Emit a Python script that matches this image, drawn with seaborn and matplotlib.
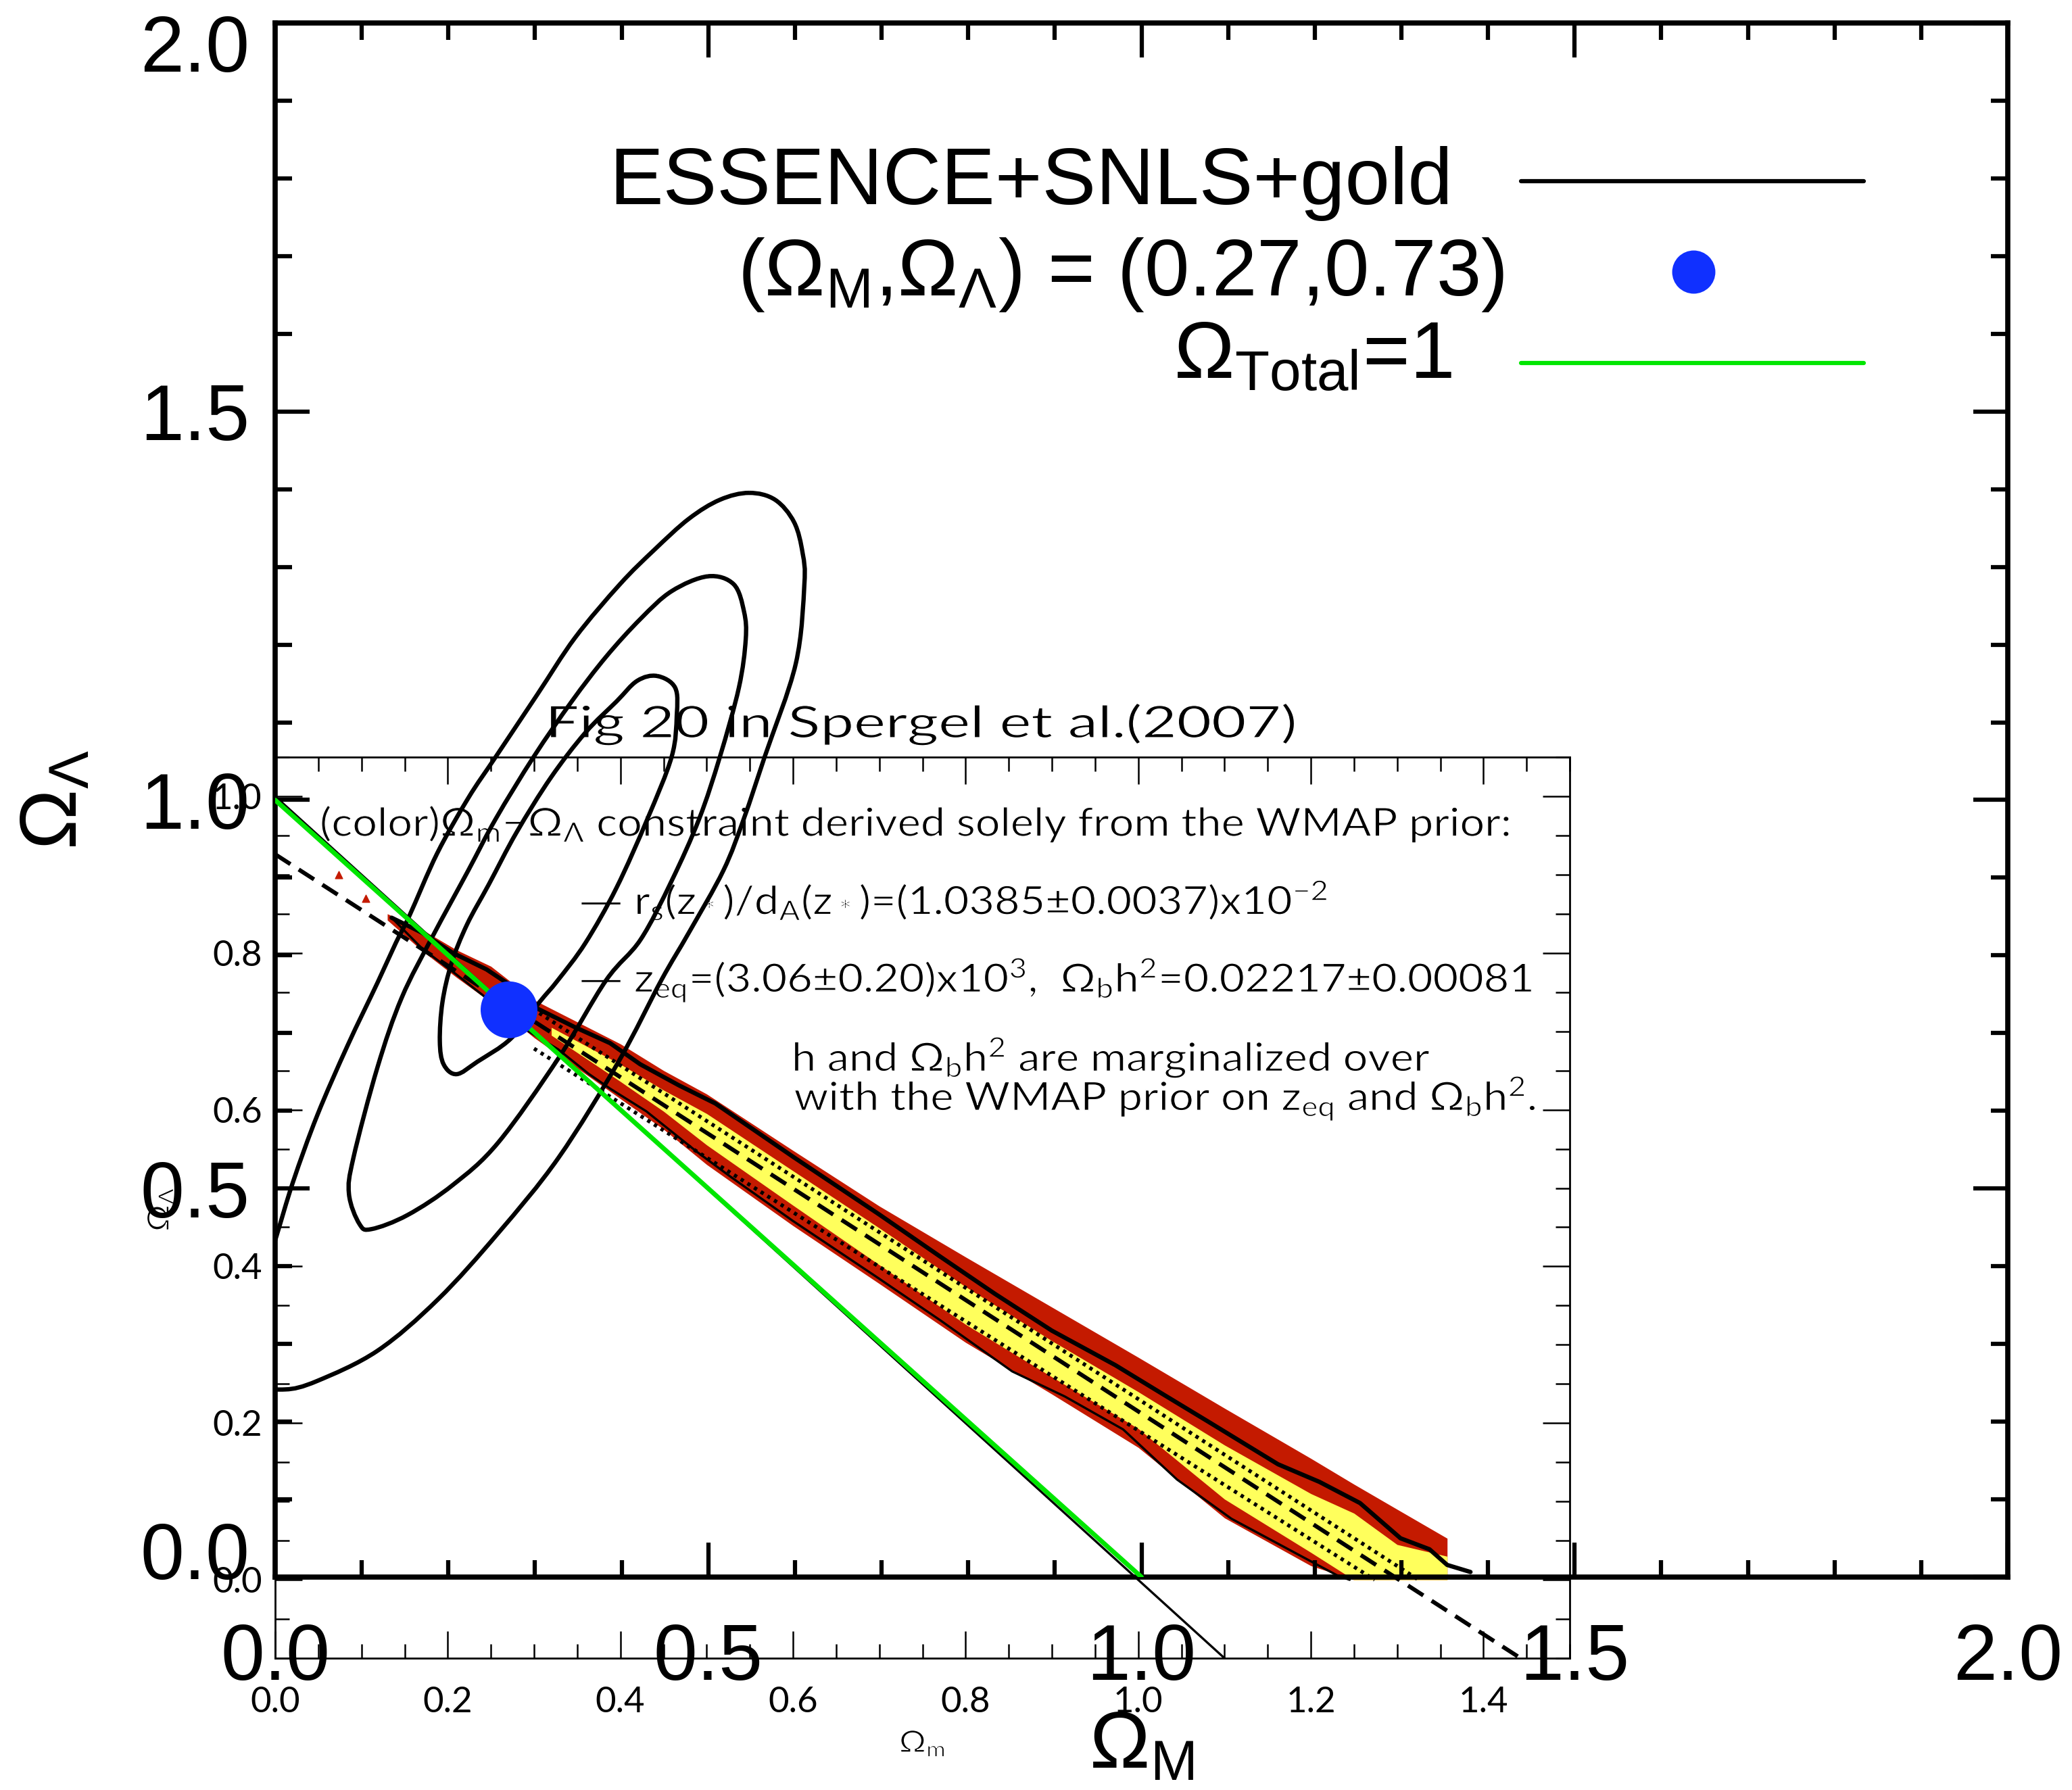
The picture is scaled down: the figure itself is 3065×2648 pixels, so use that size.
import numpy as np
import matplotlib
matplotlib.use("Agg")
import matplotlib.pyplot as plt
import seaborn as sns
from matplotlib.path import Path
from matplotlib.patches import PathPatch
from matplotlib.textpath import TextPath
from matplotlib.font_manager import FontProperties
from matplotlib.transforms import Affine2D, ScaledTranslation
from matplotlib.ticker import MultipleLocator

# ---------------------------------------------------------------- data
# ESSENCE+SNLS+gold confidence contours in the (Omega_M, Omega_Lambda) plane,
# listed clockwise starting from the top of each contour
sn1_om = [0.441, 0.4617, 0.4636, 0.4577, 0.4298, 0.394, 0.3582, 0.3263, 0.305, 0.2722,
          0.2334, 0.2095, 0.1945, 0.1901, 0.1931, 0.2035, 0.2214, 0.2467, 0.2786, 0.3184,
          0.3582, 0.394, 0.4179]
sn1_ol = [1.1596, 1.1446, 1.109, 1.0557, 0.9759, 0.887, 0.8161, 0.768, 0.7397, 0.6931,
          0.6632, 0.6472, 0.6598, 0.6898, 0.7397, 0.7897, 0.8396, 0.8915, 0.9582, 1.0291,
          1.0868, 1.1268, 1.1534]

sn2_om = [0.4995, 0.5293, 0.5413, 0.5432, 0.5353, 0.5134, 0.4895, 0.4577, 0.4219, 0.382,
          0.3272, 0.2575, 0.2053, 0.153, 0.1112, 0.0973, 0.0852, 0.0904, 0.1182, 0.1461,
          0.182, 0.2229, 0.2547, 0.2985, 0.3423, 0.3821, 0.4219, 0.4577]
sn2_ol = [1.2879, 1.2777, 1.2422, 1.2066, 1.1446, 1.0557, 0.9759, 0.896, 0.8205, 0.768,
          0.668, 0.5592, 0.5048, 0.466, 0.4478, 0.4544, 0.4932, 0.5398, 0.6563, 0.7456,
          0.825, 0.9093, 0.9759, 1.0557, 1.1268, 1.1845, 1.2333, 1.2688]

sn3_om = [0.5472, 0.5771, 0.599, 0.6089, 0.6109, 0.601, 0.5651, 0.541, 0.5174, 0.4776,
          0.4457, 0.3968, 0.3272, 0.2575, 0.1879, 0.1182, 0.0486, 0.012, -0.010, -0.025,
          -0.018, 0.0005, 0.0207, 0.0486, 0.0834, 0.1182, 0.1393, 0.1552, 0.1871, 0.2229,
          0.2547, 0.3025, 0.3462, 0.398, 0.4378, 0.4776, 0.5134]
sn3_ol = [1.3953, 1.3864, 1.3576, 1.3176, 1.2777, 1.1756, 1.0557, 0.9759, 0.9093, 0.8294,
          0.768, 0.6641, 0.5398, 0.4427, 0.3573, 0.2913, 0.2524, 0.2415, 0.250, 0.30,
          0.37, 0.435, 0.5087, 0.5942, 0.6835, 0.765, 0.8161, 0.8516, 0.9315, 1.0025,
          1.0557, 1.1356, 1.2089, 1.2777, 1.3221, 1.362, 1.3864]

# concordance model and the flat-universe line
lcdm_om = [0.27]
lcdm_ol = [0.73]
flat_om = [0.0, 1.0]
flat_ol = [1.0, 0.0]

# Inset: WMAP-prior constraint (Spergel et al. 2007, Fig. 20)
band_om = [0.13, 0.17, 0.21, 0.25, 0.30, 0.35, 0.40, 0.45, 0.50, 0.60, 0.70, 0.80, 0.90,
           1.00, 1.10, 1.20, 1.25, 1.30, 1.358]
band_hi = [0.850, 0.830, 0.804, 0.783, 0.740, 0.712, 0.684, 0.650, 0.620, 0.548, 0.477,
           0.412, 0.348, 0.284, 0.219, 0.155, 0.122, 0.090, 0.053]
band_lo = [0.842, 0.803, 0.769, 0.737, 0.692, 0.653, 0.614, 0.575, 0.530, 0.452, 0.378,
           0.303, 0.237, 0.169, 0.079, 0.018, 0.0, 0.0, 0.0]

core_om = [0.32, 0.40, 0.45, 0.50, 0.60, 0.70, 0.80, 0.90, 1.00, 1.10, 1.20, 1.25, 1.30, 1.358]
core_hi = [0.705, 0.658, 0.625, 0.595, 0.522, 0.449, 0.374, 0.305, 0.240, 0.172, 0.110,
           0.085, 0.045, 0.030]
core_lo = [0.695, 0.636, 0.598, 0.555, 0.478, 0.402, 0.326, 0.259, 0.193, 0.103, 0.035,
           0.0, 0.0, 0.0]

solid_om = [0.135, 0.17, 0.206, 0.245, 0.275, 0.304, 0.346, 0.388, 0.423, 0.468, 0.510,
            0.60, 0.699, 0.77, 0.834, 0.90, 0.9735, 1.03, 1.081, 1.162, 1.21, 1.257,
            1.304, 1.3375, 1.358, 1.385]
solid_ol = [0.845, 0.826, 0.800, 0.779, 0.757, 0.729, 0.706, 0.685, 0.658, 0.631, 0.608,
            0.540, 0.467, 0.413, 0.365, 0.318, 0.274, 0.236, 0.202, 0.1475, 0.125, 0.098,
            0.053, 0.039, 0.019, 0.010]

thin_om = [0.135, 0.17, 0.206, 0.25, 0.2935, 0.328, 0.363, 0.388, 0.430, 0.489, 0.527,
           0.60, 0.699, 0.771, 0.854, 0.915, 0.9825, 1.045, 1.108, 1.1825, 1.23, 1.245]
thin_ol = [0.845, 0.806, 0.776, 0.738, 0.700, 0.677, 0.646, 0.627, 0.598, 0.546, 0.515,
           0.458, 0.385, 0.331, 0.266, 0.234, 0.192, 0.128, 0.078, 0.034, 0.006, 0.0]

dash_om = [0.0, 1.443]
dash_ol = [0.926, -0.100]
dotu_om = [0.26, 1.325]
dotu_ol = [0.756, 0.0]
dotl_om = [0.30, 1.274]
dotl_ol = [0.678, 0.0]
inset_flat_om = [0.0, 1.1]
inset_flat_ol = [1.0, -0.1]
speck_om = [0.074, 0.105]
speck_ol = [0.90, 0.87]

main_ticks = [0.0, 0.5, 1.0, 1.5, 2.0]
inset_xticks = [0.0, 0.2, 0.4, 0.6, 0.8, 1.0, 1.2, 1.4]
inset_yticks = [0.0, 0.2, 0.4, 0.6, 0.8, 1.0]

legend_labels = ["ESSENCE+SNLS+gold",
                 "(Ω$_M$,Ω$_Λ$) = (0.27,0.73)",
                 "Ω$_{Total}$=1"]
inset_title = "Fig 20 in Spergel et al.(2007)"
inset_notes = [
    "(color)Ω$_m$−Ω$_Λ$ constraint derived solely from the WMAP prior:",
    "— r$_s$(z$_*$)/d$_A$(z$_*$)=(1.0385±0.0037)x10$^{-2}$",
    "— z$_{eq}$=(3.06±0.20)x10$^3$,  Ω$_b$h$^2$=0.02217±0.00081",
    "h and Ω$_b$h$^2$ are marginalized over",
    "with the WMAP prior on z$_{eq}$ and Ω$_b$h$^2$.",
]

# ---------------------------------------------------------------- style
sns.set_theme(style="ticks")
plt.rcParams.update({
    "font.family": ["Liberation Sans", "DejaVu Sans"],
    "mathtext.default": "regular",
    "text.color": "black",
    "axes.edgecolor": "black",
    "axes.labelcolor": "black",
    "xtick.color": "black",
    "ytick.color": "black",
})

BLUE = "#1030FF"
GREEN = "#00E600"
RED = "#C41A00"
YELLOW = "#FFFF5C"
DPI = 100
PX = DPI / 72.0
THIN_FONT = FontProperties(family=["Lato", "DejaVu Sans"], weight="normal")


def smooth_closed_path(xs, ys):
    """Closed Catmull-Rom curve through the contour vertices."""
    pts = np.column_stack([xs, ys]).astype(float)
    n = len(pts)
    verts = [pts[0]]
    codes = [Path.MOVETO]
    for i in range(n):
        p0, p1, p2, p3 = pts[i - 1], pts[i], pts[(i + 1) % n], pts[(i + 2) % n]
        verts += [p1 + (p2 - p0) / 6.0, p2 - (p3 - p1) / 6.0, p2]
        codes += [Path.CURVE4] * 3
    return Path(verts, codes)


def text_width_px(s, size):
    return TextPath((0, 0), s, size=size, prop=THIN_FONT).get_extents().width * PX


def wide_text(ax, x, y, s, size, stretch, ha="left", rotation=0):
    """Text drawn as a path, widened horizontally and with slim strokes like
    the plotter lettering of the inset."""
    tp = TextPath((0, 0), s, size=size, prop=THIN_FONT)
    ext = tp.get_extents()
    shift = -(ext.x0 + ext.x1) / 2.0 if ha == "center" else -ext.x0
    tr = (Affine2D().translate(shift, 0).scale(stretch * PX, PX).rotate_deg(rotation)
          + ScaledTranslation(x, y, ax.transData))
    patch = PathPatch(tp, transform=tr, facecolor="black", edgecolor="white",
                      linewidth=0.9, clip_on=False, zorder=4)
    ax.add_artist(patch)


fig = plt.figure(figsize=(30.65, 26.48), dpi=DPI)
fig.patch.set_facecolor("white")

# ---------------------------------------------------------------- inset
ax_in = fig.add_axes([0.13279, 0.07364, 0.62480, 0.50340])
ax_in.set_zorder(1)
ax_in.set_facecolor("white")

ax_in.fill_between(band_om, band_lo, band_hi, color=RED, linewidth=0, zorder=1)
ax_in.fill_between(core_om, core_lo, core_hi, color=YELLOW, linewidth=0, zorder=1.5)
ax_in.scatter(speck_om, speck_ol, marker="^", s=60, facecolor=RED, edgecolor=RED,
              linewidth=1, zorder=1.5)
sns.lineplot(x=solid_om, y=solid_ol, ax=ax_in, sort=False, estimator=None,
             color="black", linewidth=4.6, zorder=3)
sns.lineplot(x=thin_om, y=thin_ol, ax=ax_in, sort=False, estimator=None,
             color="black", linewidth=2.4, zorder=3)
ax_in.plot(dash_om, dash_ol, color="black", linewidth=4.4, dashes=(4.4, 2.4),
           dash_capstyle="butt", zorder=3)
for dx, dy in ((dotu_om, dotu_ol), (dotl_om, dotl_ol)):
    ax_in.plot(dx, dy, color="black", linewidth=4.0, dashes=(0.9, 1.2),
               dash_capstyle="butt", zorder=3)
ax_in.plot(inset_flat_om, inset_flat_ol, color="black", linewidth=2.4, zorder=3)

ax_in.set_xlim(0, 1.5)
ax_in.set_ylim(-0.1, 1.05)
tick_font = dict(fontsize=38, fontfamily=["Lato", "DejaVu Sans"])
ax_in.set_xticks(inset_xticks, labels=[f"{v:.1f}" for v in inset_xticks], **tick_font)
ax_in.set_yticks(inset_yticks, labels=[f"{v:.1f}" for v in inset_yticks], **tick_font)
ax_in.xaxis.set_minor_locator(MultipleLocator(0.05))
ax_in.yaxis.set_minor_locator(MultipleLocator(0.05))
ax_in.tick_params(which="both", direction="in", top=True, right=True, width=1.8)
ax_in.tick_params(which="major", length=29)
ax_in.tick_params(which="minor", length=15)
ax_in.tick_params(axis="x", pad=30)
ax_in.tick_params(axis="y", pad=14)
for sp in ax_in.spines.values():
    sp.set_linewidth(2.0)
    sp.set_color("black")

# widen the inset lettering so that the first note spans its measured width
stretch = 1756.0 / text_width_px(inset_notes[0], 42)
title_stretch = 1100.0 / text_width_px(inset_title, 47)

wide_text(ax_in, 0.75, 1.075, inset_title, 47, title_stretch, ha="center")
note_pos = [(0.054, 0.949), (0.3547, 0.849), (0.3547, 0.750), (0.602, 0.649), (0.602, 0.599)]
for (nx, ny), note in zip(note_pos, inset_notes):
    wide_text(ax_in, nx, ny, note, 42, stretch)
wide_text(ax_in, 0.75, -0.22, "Ω$_m$", 32, stretch, ha="center")
wide_text(ax_in, -0.123, 0.473, "Ω$_Λ$", 32, stretch, ha="center", rotation=90)

# ---------------------------------------------------------------- main panel
ax = fig.add_axes([0.13279, 0.11896, 0.83622, 0.86820])
ax.set_zorder(2)
ax.patch.set_alpha(0)

for xs, ys in ((sn1_om, sn1_ol), (sn2_om, sn2_ol), (sn3_om, sn3_ol)):
    ax.add_patch(PathPatch(smooth_closed_path(xs, ys), facecolor="none",
                           edgecolor="black", linewidth=4.6, zorder=3))

sns.lineplot(x=flat_om, y=flat_ol, ax=ax, sort=False, estimator=None,
             color=GREEN, linewidth=5, zorder=4)
sns.scatterplot(x=lcdm_om, y=lcdm_ol, ax=ax, s=60.5 ** 2, color=BLUE,
                edgecolor="none", linewidth=0, zorder=6)

ax.set_xlim(0, 2)
ax.set_ylim(0, 2)
ax.set_xticks(main_ticks, labels=[f"{v:.1f}" for v in main_ticks])
ax.set_yticks(main_ticks, labels=[f"{v:.1f}" for v in main_ticks])
ax.xaxis.set_minor_locator(MultipleLocator(0.1))
ax.yaxis.set_minor_locator(MultipleLocator(0.1))
ax.tick_params(which="both", direction="in", top=True, right=True, width=4.5,
               labelsize=84)
ax.tick_params(which="major", length=37)
ax.tick_params(which="minor", length=18)
ax.tick_params(axis="x", pad=48)
ax.tick_params(axis="y", pad=27)
for sp in ax.spines.values():
    sp.set_linewidth(5.5)
    sp.set_color("black")
ax.set_xlabel("")
ax.set_ylabel("")

# keep the end labels of the y axis inside the frame height
ylabels = ax.get_yticklabels()
ylabels[0].set_transform(ylabels[0].get_transform()
                         + ScaledTranslation(0, 39 / DPI, fig.dpi_scale_trans))
ylabels[-1].set_transform(ylabels[-1].get_transform()
                          + ScaledTranslation(0, -29 / DPI, fig.dpi_scale_trans))

ax.text(0.5, -0.1227, "Ω$_M$", transform=ax.transAxes, ha="center", va="baseline",
        fontsize=86)
ax.text(-0.1147, 0.5, "Ω$_Λ$", transform=ax.transAxes, rotation=90,
        rotation_mode="anchor", ha="center", va="baseline", fontsize=86)

# legend
ax.text(0.386, 1.767, legend_labels[0], fontsize=86, ha="left", va="baseline")
ax.plot([1.438, 1.834], [1.7965, 1.7965], color="black", linewidth=4.5)
ax.text(0.5335, 1.6497, legend_labels[1], fontsize=86, ha="left", va="baseline")
ax.plot([1.637], [1.680], marker="o", markersize=46, color=BLUE, markeredgewidth=0)
ax.text(1.0367, 1.5424, legend_labels[2], fontsize=86, ha="left", va="baseline")
ax.plot([1.438, 1.834], [1.5624, 1.5624], color=GREEN, linewidth=4.5)

fig.savefig("out.png", dpi=DPI, facecolor="white")
